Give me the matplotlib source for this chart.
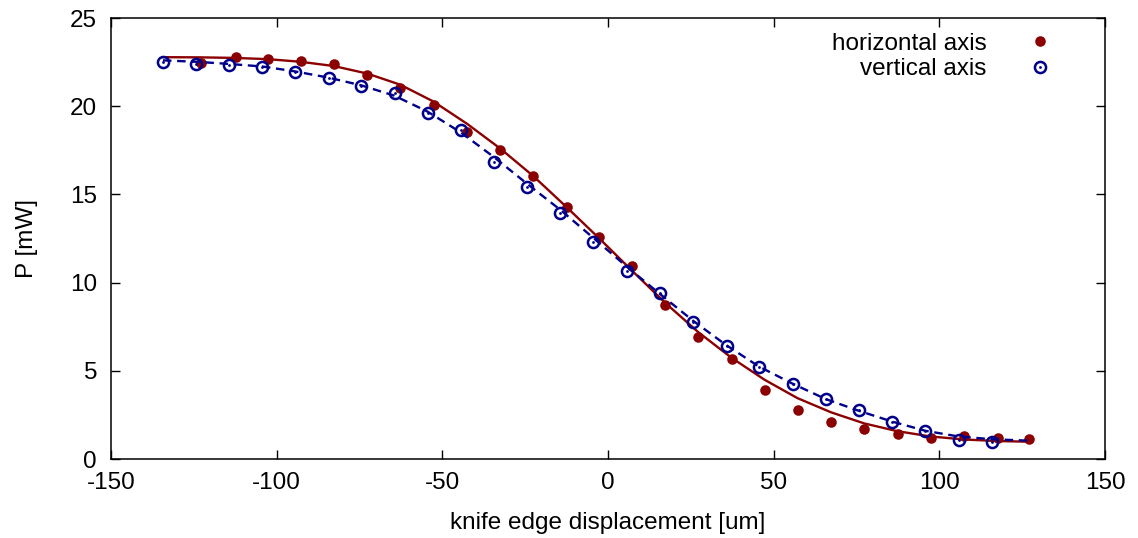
import matplotlib
matplotlib.use('Agg')
import matplotlib.pyplot as plt

# Data
# horizontal axis scan (points)
h_x = [-122.9, -112.3, -102.6, -92.6, -82.7, -72.7, -62.7, -52.6, -42.6, -32.7,
       -22.5, -12.4, -2.6, 7.4, 17.2, 27.2, 37.3, 47.3, 57.3, 67.4,
       77.4, 87.4, 97.5, 107.5, 117.6, 127.1]
h_y = [22.43, 22.8, 22.66, 22.56, 22.37, 21.77, 21.05, 20.07, 18.56, 17.52,
       16.06, 14.3, 12.57, 10.94, 8.73, 6.9, 5.65, 3.91, 2.8, 2.12,
       1.68, 1.42, 1.21, 1.3, 1.21, 1.13]

# vertical axis scan (points)
v_x = [-134.4, -124.4, -114.4, -104.3, -94.6, -84.2, -74.5, -64.2, -54.4, -44.4,
       -34.3, -24.3, -14.5, -4.4, 5.8, 15.7, 25.7, 35.8, 45.6, 55.7,
       65.7, 75.7, 85.8, 95.8, 105.8, 115.9]
v_y = [22.49, 22.37, 22.33, 22.2, 21.96, 21.58, 21.16, 20.73, 19.63, 18.65,
       16.85, 15.44, 13.96, 12.28, 10.66, 9.39, 7.78, 6.42, 5.2, 4.27,
       3.38, 2.78, 2.08, 1.59, 1.08, 0.98]

# fitted curves
fit_h_x = [-134.3, -123.0, -113.0, -102.7, -92.8, -82.8, -72.6, -62.7, -52.7, -42.5,
           -32.5, -22.6, -12.6, -2.6, 7.4, 17.3, 27.2, 37.2, 47.2, 57.2,
           67.3, 77.3, 87.3, 97.3, 107.3, 117.3, 127.4]
fit_h_y = [22.78, 22.77, 22.74, 22.67, 22.52, 22.28, 21.85, 21.22, 20.27, 19.0,
           17.6, 16.05, 14.3, 12.5, 10.65, 8.85, 7.2, 5.75, 4.5, 3.45,
           2.65, 2.02, 1.58, 1.28, 1.11, 1.02, 0.98]

fit_v_x = [-134.3, -124.4, -114.5, -104.2, -94.6, -84.3, -74.4, -64.5, -54.5, -44.3,
           -34.3, -24.4, -14.2, -4.2, 5.7, 15.4, 25.6, 35.5, 45.5, 55.4,
           65.7, 75.6, 85.8, 95.8, 105.7, 116.0, 127.1]
fit_v_y = [22.6, 22.52, 22.4, 22.25, 21.98, 21.62, 21.18, 20.6, 19.7, 18.5,
           17.1, 15.6, 14.1, 12.5, 10.9, 9.4, 7.85, 6.48, 5.25, 4.3,
           3.4, 2.74, 2.12, 1.6, 1.28, 1.12, 1.04]

x_ticks = [-150, -100, -50, 0, 50, 100, 150]
y_ticks = [0, 5, 10, 15, 20, 25]

red = '#8b0000'
blue = '#00008b'

plt.rcParams['font.family'] = ['Liberation Sans', 'DejaVu Sans']
plt.rcParams['font.size'] = 17.5
plt.rcParams['axes.unicode_minus'] = False

fig = plt.figure(figsize=(11.38, 5.38), dpi=100)
ax = fig.add_axes([0.0975, 0.1468, 0.8735, 0.8197])

# horizontal: points + solid fit
ax.plot(fit_h_x, fit_h_y, color=red, lw=1.7, zorder=2)
ph, = ax.plot(h_x, h_y, 'o', color=red, ms=7.6, mew=0, zorder=3)

# vertical: open circles with a dot + dashed fit
ax.plot(fit_v_x, fit_v_y, color=blue, lw=1.7, dashes=[3.6, 2.4], zorder=4)
pv1, = ax.plot(v_x, v_y, 'o', mfc='none', mec=blue, ms=8.0, mew=1.8, zorder=5)
pv2, = ax.plot(v_x, v_y, 'o', color=blue, ms=2.0, mew=0, zorder=5)

ax.set_xlim(-150, 150)
ax.set_ylim(0, 25)
ax.set_xticks(x_ticks)
ax.set_yticks(y_ticks)
ax.tick_params(direction='in', length=6.5, width=1, top=True, right=True)
ax.tick_params(axis='y', pad=10)
ax.tick_params(axis='x', pad=9)
for sp in ax.spines.values():
    sp.set_linewidth(1.1)

ax.set_xlabel('knife edge displacement [um]', labelpad=13)
ax.set_ylabel('P [mW]', labelpad=23)

ax.legend([ph, (pv1, pv2)], ['horizontal axis', 'vertical axis'],
          loc='upper right', bbox_to_anchor=(0.9588, 0.967),
          markerfirst=False, frameon=False, borderpad=0, borderaxespad=0,
          handlelength=2.0, handletextpad=1.18, labelspacing=0.15,
          numpoints=1)

fig.savefig('out.png', dpi=100)
